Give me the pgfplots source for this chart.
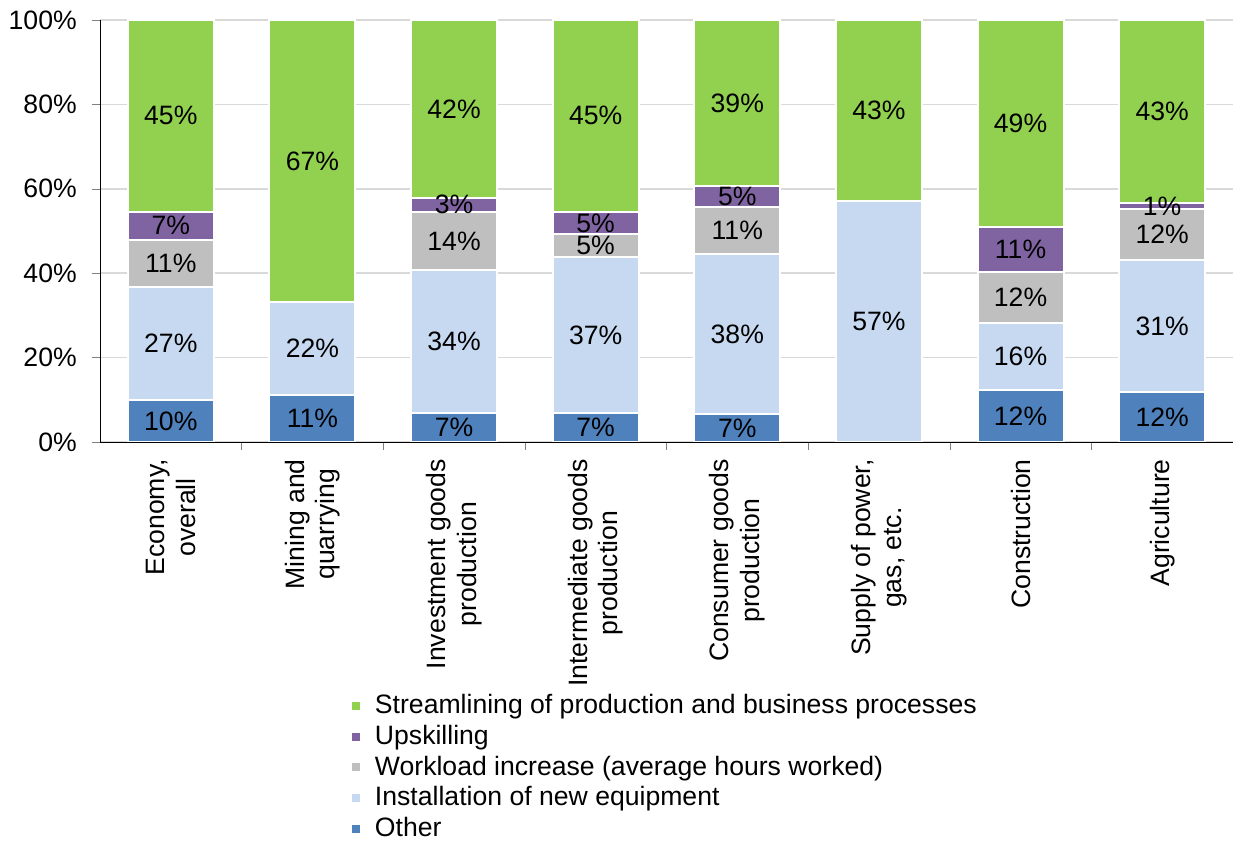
\documentclass[border=0pt]{standalone}
\usepackage{fontspec}
\setmainfont{Liberation Sans}
\usepackage{pgfplots}
\usepackage{pgfplotstable}
\pgfplotsset{compat=1.18}

\definecolor{cStream}{HTML}{92D050}
\definecolor{cUpskill}{HTML}{8064A2}
\definecolor{cWork}{HTML}{BFBFBF}
\definecolor{cInstall}{HTML}{C6D9F1}
\definecolor{cOther}{HTML}{4F81BD}
\definecolor{cGrid}{HTML}{D9D9D9}

% shares in %, one row per sector (0 = Economy overall ... 7 = Agriculture)
\pgfplotstableread{
x other install work upskill stream
0 10.0 26.7 11.2 6.7 45.4
1 11.1 22.1 0 0 66.8
2 6.9 33.9 13.7 3.4 42.1
3 6.8 37.1 5.3 5.4 45.4
4 6.6 37.9 11.2 5.0 39.3
5 0 57.2 0 0 42.8
6 12.3 15.9 12.1 10.6 49.1
7 11.8 31.3 12.1 1.4 43.4
}\shares

\begin{document}
\fontsize{13.3}{15.2}\selectfont
\begin{tikzpicture}
\useasboundingbox (-50pt,-201pt) rectangle (566.5pt,221pt);
\begin{axis}[
  at={(0,0)}, anchor=south west,
  scale only axis, width=566.5pt, height=211pt,
  ybar stacked, bar width=0.607,
  xmin=-0.5, xmax=7.5, ymin=0, ymax=100,
  axis x line*=bottom, axis y line*=left,
  tick align=outside, major tick length=4pt, minor tick length=4pt,
  ytick={0,20,...,100},
  yticklabel={\pgfmathprintnumber{\tick}\%},
  yticklabel style={xshift=-3pt},
  /pgf/number format/assume math mode=true,
  ymajorgrids, grid style={cGrid, line width=0.8pt},
  xtick={0,...,7},
  minor xtick={0.5,1.5,...,7.5},
  every major x tick/.style={draw=none},
  xticklabels={{Economy,\\overall},{Mining and\\quarrying},{Investment goods\\production},{Intermediate goods\\production},{Consumer goods\\production},{Supply of power,\\gas, etc.},{Construction},{Agriculture}},
  xticklabel style={rotate=90, anchor=east, align=center},
  nodes near coords={\pgfmathfloatifflags{\pgfplotspointmeta}{0}{}{\pgfmathprintnumber[fixed,precision=0]{\pgfplotspointmeta}\%}},
  nodes near coords align={center},
  every node near coord/.style={anchor=center, black},
  legend image code/.code={\fill[#1] (0pt,-2.5pt) rectangle (5pt,2.5pt);},
  reverse legend,
  legend cell align=left,
  legend style={at={(0.215,-0.578)}, anchor=north west, draw=none, fill=none,
    row sep=-0.25pt, /tikz/every odd column/.append style={column sep=4.5pt},
    nodes={inner sep=2pt}},
]
\addplot[fill=cOther, draw=white, line width=1pt] table[x=x, y=other] {\shares};
\addplot[fill=cInstall, draw=white, line width=1pt] table[x=x, y=install] {\shares};
\addplot[fill=cWork, draw=white, line width=1pt] table[x=x, y=work] {\shares};
\addplot[fill=cUpskill, draw=white, line width=1pt] table[x=x, y=upskill] {\shares};
\addplot[fill=cStream, draw=white, line width=1pt] table[x=x, y=stream] {\shares};
\legend{Other, Installation of new equipment, Workload increase (average hours worked), Upskilling, Streamlining of production and business processes}
\end{axis}
\end{tikzpicture}
\end{document}
